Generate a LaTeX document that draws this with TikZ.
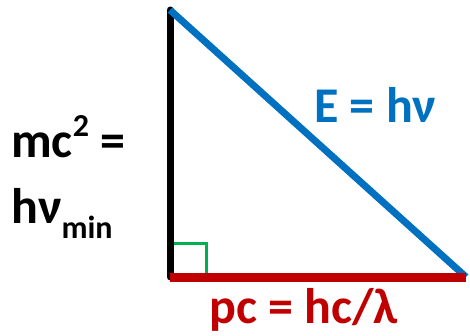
\documentclass[tikz,border=0pt]{standalone}
\usepackage{fontspec}
\setmainfont{Carlito}
\usepackage{xcolor}
\definecolor{hypblue}{RGB}{0, 112, 192}
\definecolor{basered}{RGB}{192, 0, 0}
\definecolor{anglegreen}{RGB}{0, 176, 80}

\begin{document}
\begin{tikzpicture}[x=1pt, y=-1pt,
    label text/.style={inner sep=0pt, font=\bfseries\fontsize{50}{58}\selectfont},
    side/.style={line width=7pt, line cap=round}]
    \useasboundingbox (0,0) rectangle (470,335);

    \coordinate (top) at (170,10);
    \coordinate (corner) at (170,277);
    \coordinate (tip) at (466,277);

    % right angle mark
    \draw[anglegreen, line width=3pt] (170,243) -| (206,277);

    \draw[side, black] (top) -- (corner);
    \draw[side, hypblue, line cap=butt] (top) -- (tip);
    \draw[basered, line width=9pt] (corner) -- (tip);

    \node[label text, text=hypblue, anchor=base west] (energy) at (314,122) {E = hν};
    \node[label text, anchor=base west] (rest) at (11,157) {mc\raisebox{0.42em}{\fontsize{32}{32}\selectfont 2} =};
    \node[label text, anchor=base west] (photon) at (11,223) {hν\raisebox{-0.3em}{\fontsize{32}{32}\selectfont min}};
    \node[label text, text=basered, anchor=base west] (momentum) at (209,323) {pc = hc/λ};
\end{tikzpicture}
\end{document}
